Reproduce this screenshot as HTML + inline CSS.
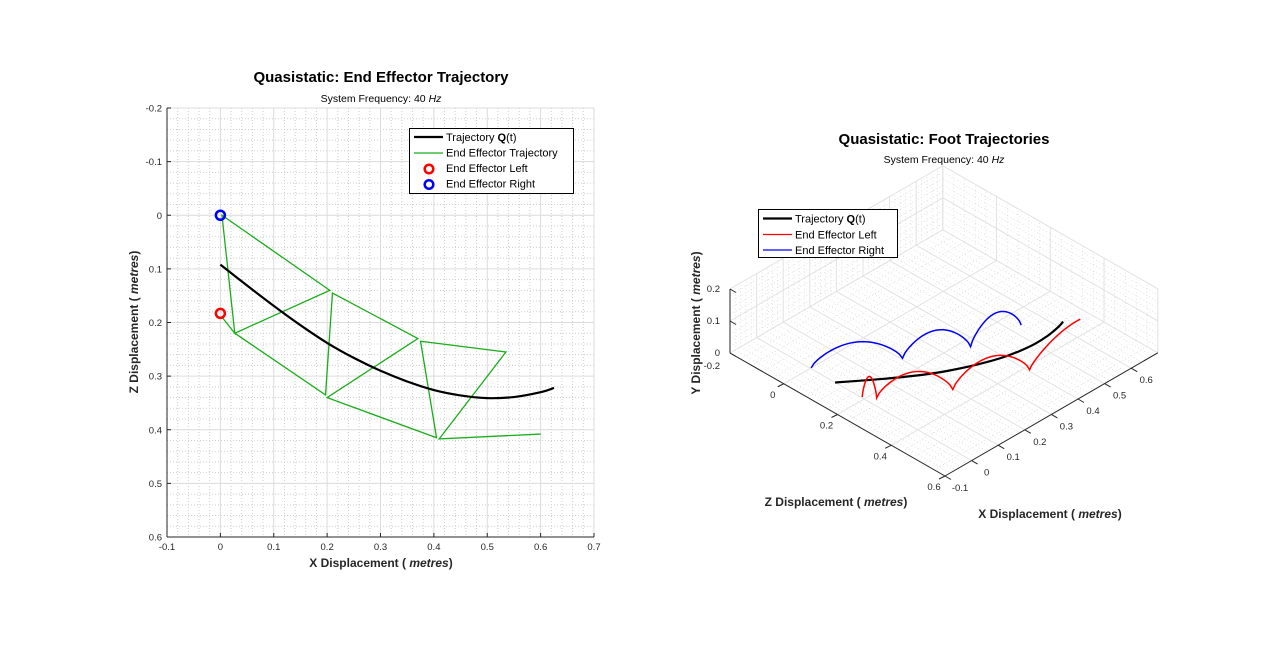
<!DOCTYPE html>
<html><head><meta charset="utf-8"><style>
html,body{margin:0;padding:0;background:#fff}
svg{display:block;font-family:"Liberation Sans",sans-serif}
</style></head><body>
<svg id="fig" width="1280" height="668" viewBox="0 0 1280 668" xmlns="http://www.w3.org/2000/svg">
<rect width="1280" height="668" fill="#fff"/>
<g id="left"></g>
<g id="right"></g>
</svg>
<script>
// ---------- data (left: 2D) ----------
const qX = [0, 0.05, 0.1, 0.15, 0.2, 0.25, 0.3, 0.35, 0.4, 0.45, 0.5, 0.55, 0.6, 0.625];
const qZ = [0.092, 0.131, 0.169, 0.205, 0.238, 0.266, 0.290, 0.310, 0.326, 0.336, 0.341, 0.339, 0.330, 0.322];
const gX = [0.003, 0.027, 0.003, 0.205, 0.027, 0.197, 0.21, 0.37, 0.2, 0.405, 0.375, 0.535, 0.41, 0.6];
const gZ = [0.19, 0.22, 0.0, 0.14, 0.22, 0.335, 0.145, 0.23, 0.34, 0.415, 0.235, 0.255, 0.417, 0.408];
const leftStart = [0.0, 0.183];
const rightStart = [0.0, 0.0];
const xTicks = [-0.1, 0, 0.1, 0.2, 0.3, 0.4, 0.5, 0.6, 0.7];
const zTicks = [-0.2, -0.1, 0, 0.1, 0.2, 0.3, 0.4, 0.5, 0.6];
// ---------- data (right: 3D) ----------
const redSX = [0.003, 0.027, 0.197, 0.405];
const redSZ = [0.19, 0.22, 0.335, 0.415];
const redEX = [0.027, 0.197, 0.405, 0.755];
const redEZ = [0.22, 0.335, 0.415, 0.405];
const redH = [0.066, 0.069, 0.072, 0.062];
const redFrac = [1, 1, 1, 0.56];
const bluSX = [0.003, 0.205, 0.37];
const bluSZ = [0.0, 0.14, 0.23];
const bluEX = [0.205, 0.37, 0.535];
const bluEZ = [0.14, 0.23, 0.255];
const bluH = [0.066, 0.07, 0.072];
const bluFrac = [1, 1, 1];
const x3Ticks = [-0.1, 0, 0.1, 0.2, 0.3, 0.4, 0.5, 0.6];
const z3Ticks = [0, 0.2, 0.4, 0.6];

const NS = "http://www.w3.org/2000/svg";
function mk(parent, tag, attrs, text) {
  const e = document.createElementNS(NS, tag);
  for (const k in attrs) e.setAttribute(k, attrs[k]);
  if (text !== undefined) e.textContent = text;
  parent.appendChild(e);
  return e;
}
// smooth path through points (Catmull-Rom)
function smoothPath(pts) {
  let d = 'M' + pts[0][0] + ',' + pts[0][1];
  for (let i = 0; i < pts.length - 1; i++) {
    const p0 = pts[Math.max(0, i - 1)], p1 = pts[i], p2 = pts[i + 1], p3 = pts[Math.min(pts.length - 1, i + 2)];
    const c1 = [p1[0] + (p2[0] - p0[0]) / 6, p1[1] + (p2[1] - p0[1]) / 6];
    const c2 = [p2[0] - (p3[0] - p1[0]) / 6, p2[1] - (p3[1] - p1[1]) / 6];
    d += ' C' + c1.join(',') + ' ' + c2.join(',') + ' ' + p2.join(',');
  }
  return d;
}
// ---------- LEFT ----------
const L = document.getElementById('left');
const ax0 = 167, ax1 = 594, ay0 = 108, ay1 = 537;
const sx = v => ax0 + (v + 0.1) / 0.8 * (ax1 - ax0);
const sz = v => ay0 + (v + 0.2) / 0.8 * (ay1 - ay0);
mk(L, 'rect', {x: ax0, y: ay0, width: ax1 - ax0, height: ay1 - ay0, fill: '#fff'});
for (let i = 0; i <= 40; i++) {
  const v = -0.1 + i * 0.02;
  if (i % 5) {
    let e = mk(L, 'line', {x1: sx(v), x2: sx(v), y1: ay0, y2: ay1, stroke: '#cfcfcf', 'stroke-dasharray': '1,2', 'stroke-width': 1});
    
    
  }
  const w = -0.2 + i * 0.02;
  if (i % 5) {
    let e = mk(L, 'line', {x1: ax0, x2: ax1, y1: sz(w), y2: sz(w), stroke: '#cfcfcf', 'stroke-dasharray': '1,2', 'stroke-width': 1});
    
    
  }
}
xTicks.forEach(t => {
  let g = mk(L, 'line', {x1: sx(t), x2: sx(t), y1: ay0, y2: ay1, stroke: '#dcdcdc'});
  
  
  mk(L, 'line', {x1: sx(t), x2: sx(t), y1: ay1, y2: ay1 - 4, stroke: '#262626'});
  let tx = mk(L, 'text', {x: sx(t), y: ay1 + 13, 'font-size': 9.5, 'text-anchor': 'middle', fill: '#262626'}, String(t));
  
  
});
zTicks.forEach(t => {
  let g = mk(L, 'line', {x1: ax0, x2: ax1, y1: sz(t), y2: sz(t), stroke: '#dcdcdc'});
  
  
  mk(L, 'line', {x1: ax0, x2: ax0 + 4, y1: sz(t), y2: sz(t), stroke: '#262626'});
  let tx = mk(L, 'text', {x: ax0 - 5, y: sz(t) + 3.5, 'font-size': 9.5, 'text-anchor': 'end', fill: '#262626'}, String(t));
  
  
});
mk(L, 'line', {x1: ax0, x2: ax1, y1: ay1, y2: ay1, stroke: '#262626'});
mk(L, 'line', {x1: ax0, x2: ax0, y1: ay0, y2: ay1, stroke: '#262626'});
let gp = mk(L, 'polyline', {points: gX.map((x, i) => sx(x) + ',' + sz(gZ[i])).join(' '), fill: 'none', stroke: '#1aad1a', 'stroke-width': 1.3});


let qp = mk(L, 'path', {d: smoothPath(qX.map((x, i) => [sx(x), sz(qZ[i])])), fill: 'none', stroke: '#000', 'stroke-width': 2.2});


let mL = mk(L, 'circle', {cx: sx(leftStart[0]), cy: sz(leftStart[1]), r: 4.5, fill: 'none', stroke: '#f00', 'stroke-width': 2.5});


let mR = mk(L, 'circle', {cx: sx(rightStart[0]), cy: sz(rightStart[1]), r: 4.5, fill: 'none', stroke: '#00f', 'stroke-width': 2.5});


let t1 = mk(L, 'text', {x: 381, y: 82, 'font-size': 15, 'font-weight': 'bold', 'text-anchor': 'middle'}, 'Quasistatic: End Effector Trajectory');


let s1 = mk(L, 'text', {x: 381, y: 102, 'font-size': 10.5, 'text-anchor': 'middle'});


s1.innerHTML = 'System Frequency: 40 <tspan font-style="italic">Hz</tspan>';
let xl = mk(L, 'text', {x: 381, y: 567, 'font-size': 12, 'font-weight': 'bold', 'text-anchor': 'middle', fill: '#262626'});
xl.innerHTML = 'X Displacement ( <tspan font-style="italic">metres</tspan>)';


let zl = mk(L, 'text', {x: 0, y: 0, 'font-size': 12, 'font-weight': 'bold', 'text-anchor': 'middle', fill: '#262626', transform: 'translate(138,322) rotate(-90)'});
zl.innerHTML = 'Z Displacement ( <tspan font-style="italic">metres</tspan>)';


// legend left
const lg = mk(L, 'g', {});


mk(lg, 'rect', {x: 409.5, y: 128.5, width: 164, height: 65, fill: '#fff', stroke: '#000'});
mk(lg, 'line', {x1: 414, x2: 443, y1: 137, y2: 137, stroke: '#000', 'stroke-width': 2.2});
mk(lg, 'line', {x1: 414, x2: 443, y1: 153, y2: 153, stroke: '#1aad1a', 'stroke-width': 1.3});
mk(lg, 'circle', {cx: 429, cy: 169, r: 4.3, fill: 'none', stroke: '#f00', 'stroke-width': 2.5});
mk(lg, 'circle', {cx: 429, cy: 184.5, r: 4.3, fill: 'none', stroke: '#00f', 'stroke-width': 2.5});
const lgTxt = ['Trajectory <tspan font-weight="bold">Q</tspan>(t)', 'End Effector Trajectory', 'End Effector Left', 'End Effector Right'];
lgTxt.forEach((s, i) => {
  let e = mk(lg, 'text', {x: 446, y: 141 + i * 15.5, 'font-size': 11});
  e.innerHTML = s;
  
  
});

// ---------- RIGHT (3D) ----------
const R = document.getElementById('right');
function P(x, y, z) {
  return [945 + (x + 0.1) * 266 + (z - 0.6) * 268.75, 476 - (x + 0.1) * 154 + (z - 0.6) * 153.75 - y * 320];
}
function ln(p, q, attrs, name) {
  const e = mk(R, 'line', Object.assign({x1: p[0], y1: p[1], x2: q[0], y2: q[1]}, attrs));
  
  
  return e;
}
const XA = -0.1, XB = 0.7, ZA = -0.2, ZB = 0.6, YA = 0, YB = 0.2;
const minorA = {stroke: '#d4d4d4', 'stroke-dasharray': '0.8,2.6', 'stroke-width': 0.8};
const majorA = {stroke: '#e2e2e2', 'stroke-width': 1};
for (let i = 1; i < 40; i++) {
  const x = XA + i * 0.02;
  if (i % 5 === 0) continue;
  ln(P(x, 0, ZA), P(x, 0, ZB), minorA, 'floor-minor-grid');
  ln(P(x, YA, ZA), P(x, YB, ZA), minorA, 'wall-minor-grid');
}
for (let i = 1; i < 20; i++) {
  const z = ZA + i * 0.04;
  if (i % 5 === 0) continue;
  ln(P(XA, 0, z), P(XB, 0, z), minorA, 'floor-minor-grid');
  ln(P(XB, YA, z), P(XB, YB, z), minorA, 'wall-minor-grid');
}
for (let i = 1; i < 10; i++) {
  const y = i * 0.02;
  if (i % 5 === 0) continue;
  ln(P(XA, y, ZA), P(XB, y, ZA), minorA, 'wall-minor-grid');
  ln(P(XB, y, ZA), P(XB, y, ZB), minorA, 'wall-minor-grid');
}
for (let i = 0; i <= 8; i++) {
  const x = XA + i * 0.1;
  ln(P(x, 0, ZA), P(x, 0, ZB), majorA, 'floor-grid-x');
  ln(P(x, YA, ZA), P(x, YB, ZA), majorA, 'wall-grid-x');
}
for (let i = 0; i <= 4; i++) {
  const z = ZA + i * 0.2;
  ln(P(XA, 0, z), P(XB, 0, z), majorA, 'floor-grid-z');
  ln(P(XB, YA, z), P(XB, YB, z), majorA, 'wall-grid-z');
}
[0.1, 0.2].forEach(y => {
  ln(P(XA, y, ZA), P(XB, y, ZA), majorA, 'wall-grid-y');
  ln(P(XB, y, ZA), P(XB, y, ZB), majorA, 'wall-grid-y');
});
const axA = {stroke: '#262626', 'stroke-width': 1};
ln(P(XA, 0, ZA), P(XA, 0, ZB), axA, 'z-axis-line');
ln(P(XA, 0, ZB), P(XB, 0, ZB), axA, 'x-axis-line');
ln(P(XA, 0, ZA), P(XA, YB, ZA), axA, 'y-axis-line');
z3Ticks.forEach(z => {
  const p = P(XA, 0, z);
  ln(p, [p[0] - 6, p[1] + 3], axA, 'z-tick');
  let e = mk(R, 'text', {x: p[0] - 11, y: p[1] + 14, 'font-size': 9.5, 'text-anchor': 'middle', fill: '#262626'}, String(z));
  
  
});
x3Ticks.forEach(x => {
  const p = P(x, 0, ZB);
  ln(p, [p[0] + 6, p[1] + 3.5], axA, 'x-tick');
  let e = mk(R, 'text', {x: p[0] + 15, y: p[1] + 15, 'font-size': 9.5, 'text-anchor': 'middle', fill: '#262626'}, String(x));
  
  
});
const yTickLbl = [['0.2', 0.2], ['0.1', 0.1], ['0', 0]];
yTickLbl.forEach(([s, y]) => {
  const p = P(XA, y, ZA);
  ln(p, [p[0] + 6, p[1] + 3.5], axA, 'y-tick');
  let e = mk(R, 'text', {x: p[0] - 10, y: p[1] + 3, 'font-size': 9.5, 'text-anchor': 'end', fill: '#262626'}, s);
  
  
});
let ym = mk(R, 'text', {x: 720, y: 369, 'font-size': 9.5, 'text-anchor': 'end', fill: '#262626'}, '-0.2');


function swingPts(SX, SZ, EX, EZ, H, F) {
  const pts = [];
  for (let k = 0; k < SX.length; k++) {
    for (let j = 0; j <= 30; j++) {
      const s = j / 30 * F[k];
      const x = SX[k] + (EX[k] - SX[k]) * s;
      const z = SZ[k] + (EZ[k] - SZ[k]) * s;
      const y = H[k] * Math.pow(Math.sin(Math.PI * s), 0.7);
      pts.push(P(x, y, z).join(','));
    }
  }
  return pts.join(' ');
}
let bl = mk(R, 'polyline', {points: swingPts(bluSX, bluSZ, bluEX, bluEZ, bluH, bluFrac), fill: 'none', stroke: '#00f', 'stroke-width': 1.5});


let q3 = mk(R, 'path', {d: smoothPath(qX.map((x, i) => P(x, 0, qZ[i]))), fill: 'none', stroke: '#000', 'stroke-width': 2.2});


let rl = mk(R, 'polyline', {points: swingPts(redSX, redSZ, redEX, redEZ, redH, redFrac), fill: 'none', stroke: '#f00', 'stroke-width': 1.5});


let t2 = mk(R, 'text', {x: 944, y: 144, 'font-size': 15, 'font-weight': 'bold', 'text-anchor': 'middle'}, 'Quasistatic: Foot Trajectories');


let s2 = mk(R, 'text', {x: 944, y: 163, 'font-size': 10.5, 'text-anchor': 'middle'});
s2.innerHTML = 'System Frequency: 40 <tspan font-style="italic">Hz</tspan>';


let zl3 = mk(R, 'text', {x: 836, y: 506, 'font-size': 12, 'font-weight': 'bold', 'text-anchor': 'middle', fill: '#262626'});
zl3.innerHTML = 'Z Displacement ( <tspan font-style="italic">metres</tspan>)';


let xl3 = mk(R, 'text', {x: 1050, y: 518, 'font-size': 12, 'font-weight': 'bold', 'text-anchor': 'middle', fill: '#262626'});
xl3.innerHTML = 'X Displacement ( <tspan font-style="italic">metres</tspan>)';


let yl3 = mk(R, 'text', {x: 0, y: 0, 'font-size': 12, 'font-weight': 'bold', 'text-anchor': 'middle', fill: '#262626', transform: 'translate(700,323) rotate(-90)'});
yl3.innerHTML = 'Y Displacement ( <tspan font-style="italic">metres</tspan>)';


const lg2 = mk(R, 'g', {});


mk(lg2, 'rect', {x: 758.5, y: 209.5, width: 139, height: 48, fill: '#fff', stroke: '#000'});
mk(lg2, 'line', {x1: 763, x2: 792, y1: 218.5, y2: 218.5, stroke: '#000', 'stroke-width': 2.2});
mk(lg2, 'line', {x1: 763, x2: 792, y1: 234.5, y2: 234.5, stroke: '#f00', 'stroke-width': 1.3});
mk(lg2, 'line', {x1: 763, x2: 792, y1: 250, y2: 250, stroke: '#00f', 'stroke-width': 1.3});
const lg2Txt = ['Trajectory <tspan font-weight="bold">Q</tspan>(t)', 'End Effector Left', 'End Effector Right'];
lg2Txt.forEach((s, i) => {
  let e = mk(lg2, 'text', {x: 795, y: 222.5 + i * 15.8, 'font-size': 11});
  e.innerHTML = s;
  
  
});
</script>
</body></html>
